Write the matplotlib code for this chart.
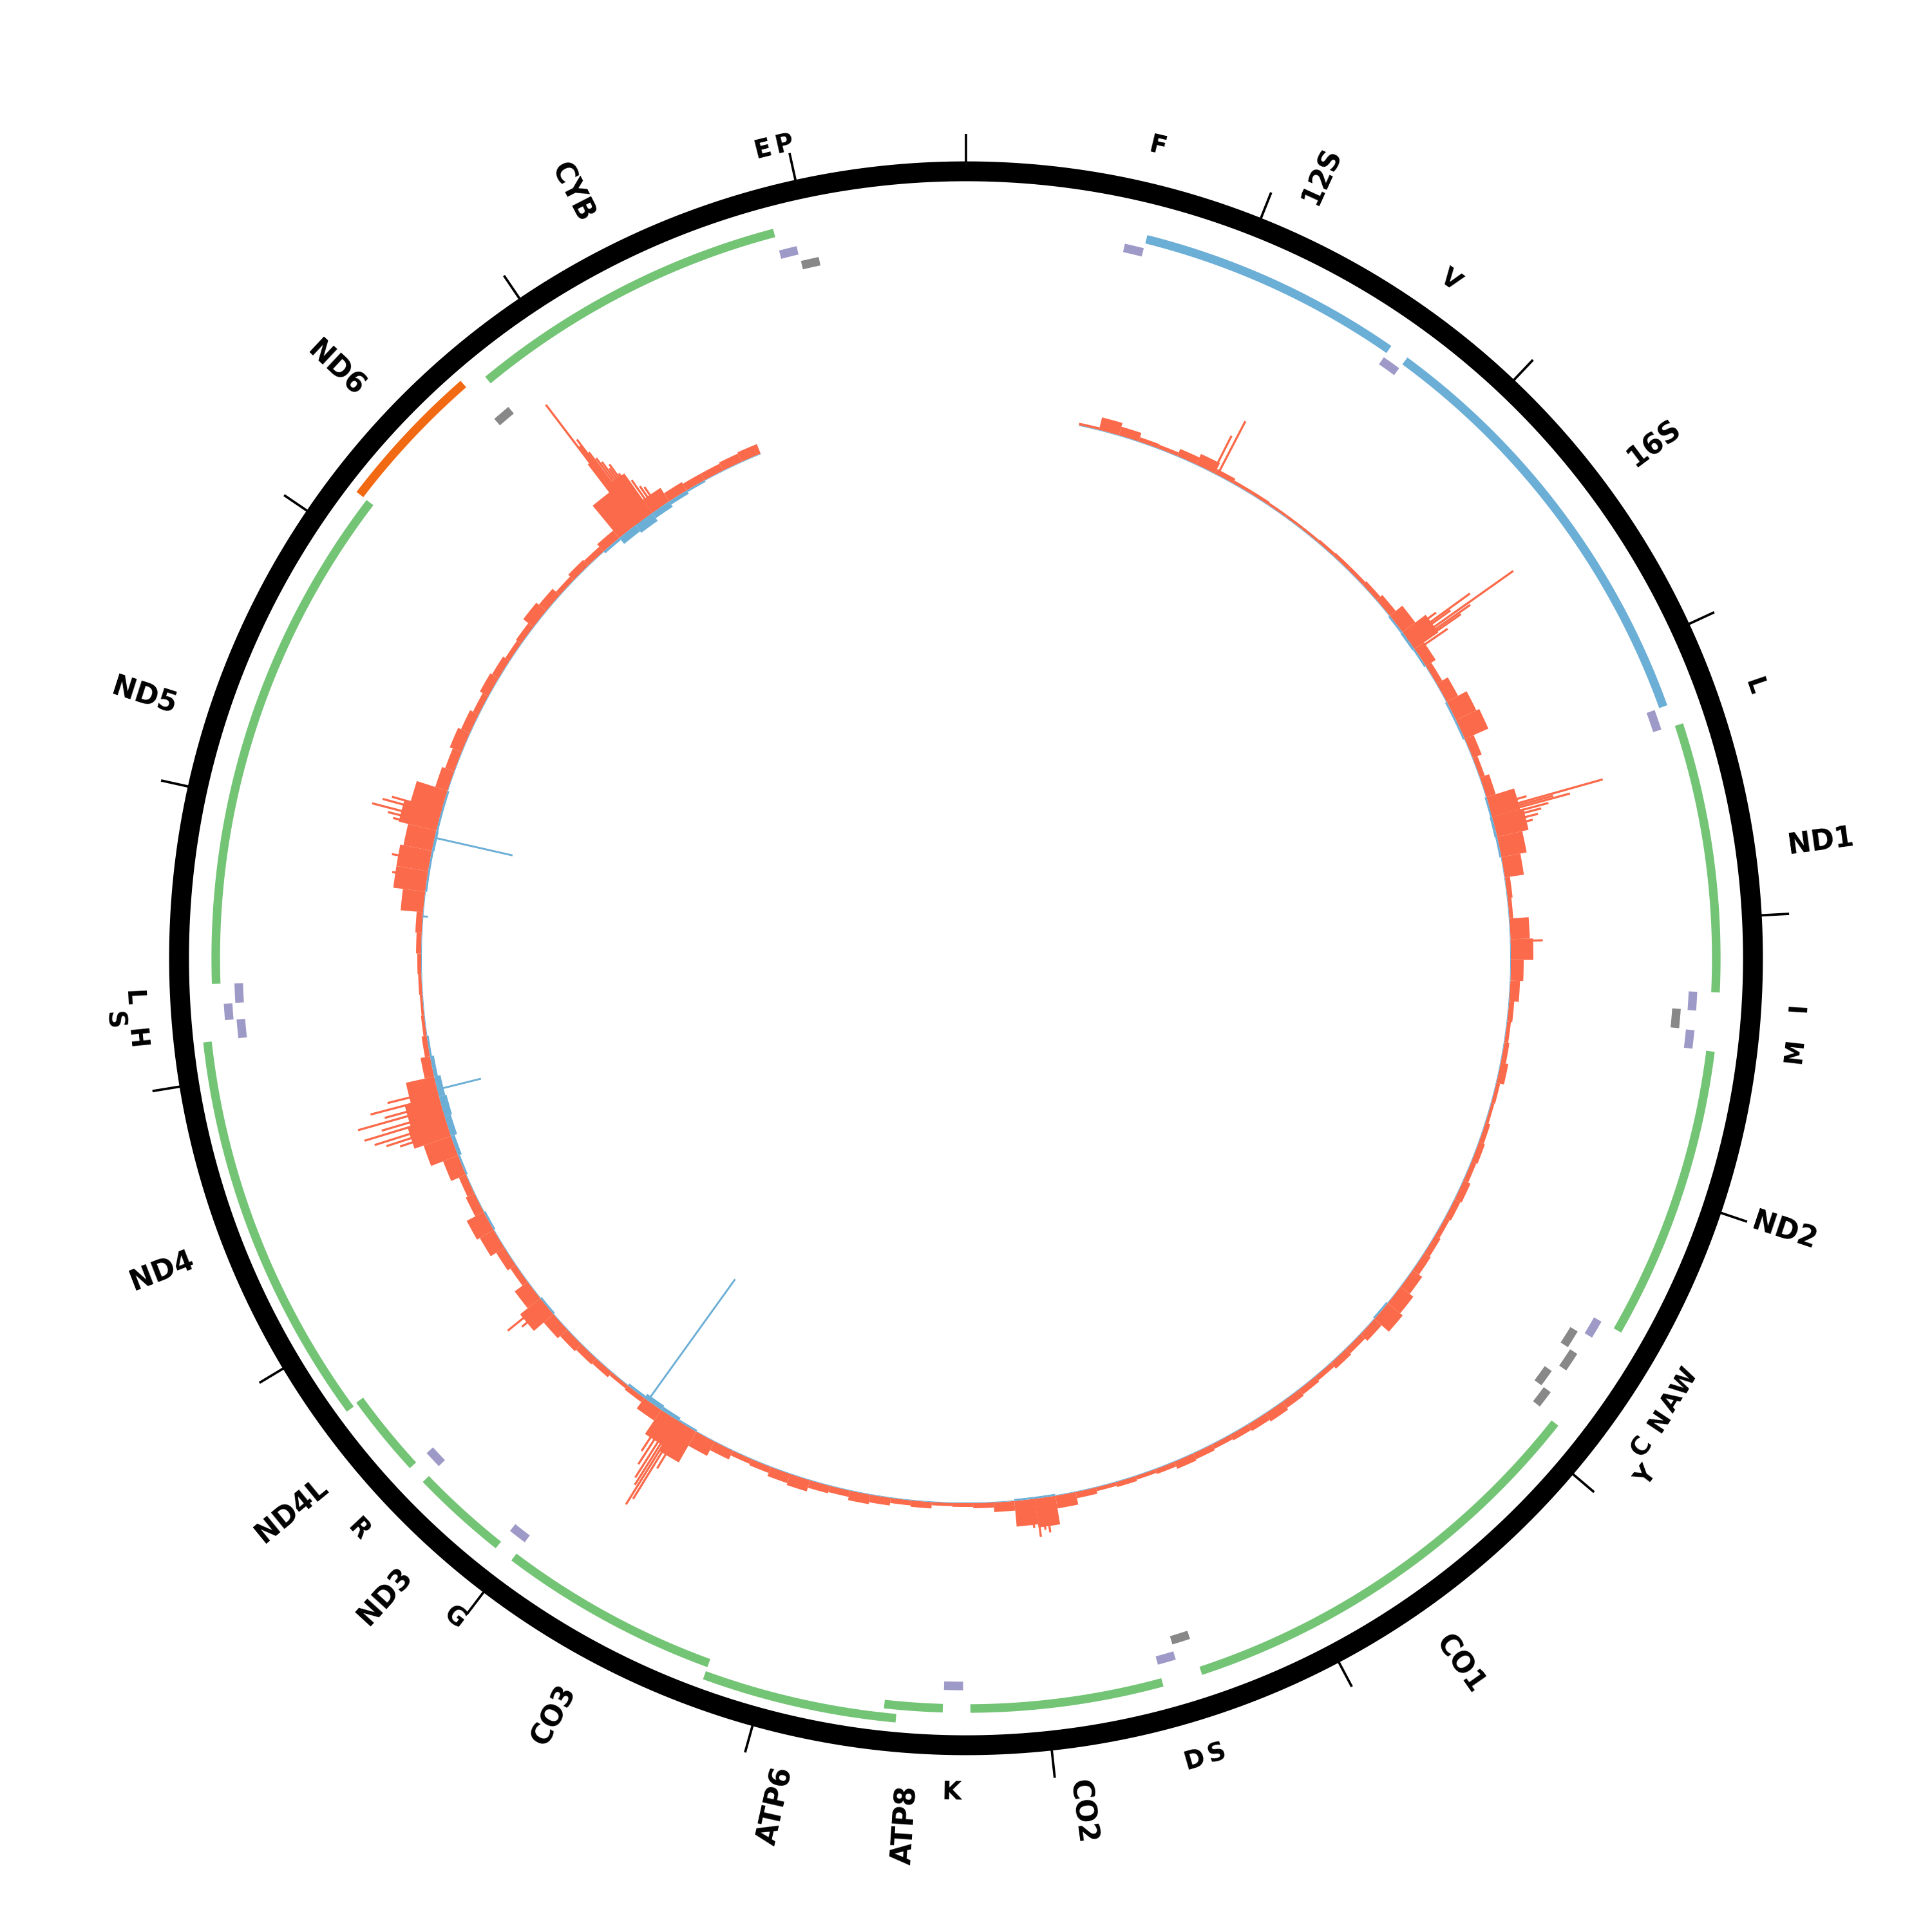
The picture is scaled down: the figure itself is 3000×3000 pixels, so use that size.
import numpy as np
import matplotlib
matplotlib.use("Agg")
import matplotlib.pyplot as plt

# genome and annotation (rCRS)
genome_len = 16569
names = ['F', '12S', 'V', '16S', 'L', 'ND1', 'I', 'Q', 'M', 'ND2', 'W', 'A', 'N', 'C', 'Y',
         'CO1', 'S', 'D', 'CO2', 'K', 'ATP8', 'ATP6', 'CO3', 'G', 'ND3', 'R', 'ND4L', 'ND4',
         'H', 'S', 'L', 'ND5', 'ND6', 'E', 'CYB', 'T', 'P']
starts = [577, 648, 1602, 1671, 3230, 3307, 4263, 4329, 4402, 4470, 5512, 5587, 5657, 5761, 5826,
          5904, 7446, 7518, 7586, 8295, 8366, 8527, 9207, 9991, 10059, 10405, 10470, 10760,
          12138, 12207, 12266, 12337, 14149, 14674, 14747, 15888, 15956]
ends = [647, 1601, 1670, 3229, 3304, 4262, 4331, 4400, 4469, 5511, 5579, 5655, 5729, 5826, 5891,
        7445, 7514, 7585, 8269, 8364, 8572, 9207, 9990, 10058, 10404, 10469, 10766, 12137,
        12206, 12265, 12336, 14148, 14673, 14742, 15887, 15953, 16023]
strands = [1, 1, 1, 1, 1, 1, 1, -1, 1, 1, 1, -1, -1, -1, -1,
           1, -1, 1, 1, 1, 1, 1, 1, 1, 1, 1, 1, 1,
           1, 1, 1, 1, -1, -1, 1, 1, -1]
# text actually printed next to each feature in the figure
shown_labels = ['F', '12S', 'V', '16S', 'L', 'ND1', 'I', '', 'M', 'ND2', 'W', 'A', 'N', 'C', 'Y',
                'CO1', 'S', 'D', 'CO2', 'K', 'ATP8', 'ATP6', 'CO3', 'G', 'ND3', 'R', 'ND4L', 'ND4',
                'H', 'S', 'L', 'ND5', 'ND6', '', 'CYB', 'E', 'P']

# coverage, 100 bp bins (bin centres 600 ... 15500)
cov_first, cov_step = 600, 100
cov_fwd = [4, 20, 14, 7, 6, 12, 18, 8, 5, 5,
           4, 4, 4, 5, 6, 6, 8, 12, 25, 45,
           18, 10, 20, 35, 40, 15, 8, 15, 45, 50,
           40, 30, 8, 6, 30, 35, 20, 15, 8, 6,
           8, 12, 6, 5, 8, 10, 8, 12, 10, 8,
           10, 12, 18, 25, 30, 15, 10, 12, 8, 10,
           12, 15, 12, 10, 8, 10, 12, 8, 6, 8,
           6, 10, 20, 45, 40, 15, 8, 6, 5, 10,
           8, 12, 15, 10, 12, 18, 15, 10, 8, 15,
           25, 55, 45, 20, 8, 6, 10, 12, 15, 20,
           40, 25, 10, 15, 25, 30, 15, 12, 25, 45,
           60, 55, 45, 15, 8, 5, 4, 5, 6, 8,
           10, 35, 50, 50, 45, 60, 50, 20, 15, 20,
           15, 10, 15, 12, 8, 10, 20, 15, 8, 12,
           10, 15, 65, 75, 25, 15, 12, 12, 14, 16]
cov_rev = [1, 1, 1, 1, 1, 1, 1, 1, 1, 1,
           1, 1, 1, 1, 1, 1, 1, 1, 3, 4,
           3, 1, 1, 3, 3, 1, 1, 1, 3, 4,
           3, 1, 1, 1, 1, 1, 1, 1, 1, 1,
           1, 1, 1, 1, 1, 1, 1, 1, 1, 1,
           1, 1, 1, 1, 3, 1, 1, 1, 1, 1,
           1, 1, 1, 1, 1, 1, 1, 1, 1, 1,
           1, 1, 1, 3, 3, 1, 1, 1, 1, 1,
           1, 1, 1, 1, 1, 1, 1, 1, 1, 1,
           1, 3, 6, 8, 4, 1, 1, 1, 1, 1,
           3, 1, 1, 1, 1, 3, 1, 1, 3, 6,
           10, 12, 10, 6, 3, 1, 1, 1, 1, 1,
           1, 1, 3, 3, 4, 3, 3, 1, 1, 1,
           1, 1, 1, 1, 1, 1, 1, 1, 1, 1,
           1, 4, 12, 15, 10, 6, 3, 1, 1, 1]
# single-position peaks (needles)
peak_fwd_pos = [1240, 1265,
                2470, 2490, 2500, 2518, 2530, 2540, 2560,
                3400, 3420, 3430, 3440, 3455, 3470, 3490, 3510,
                4060, 7900, 7920, 7945, 7970,
                9720, 9740, 9753, 9765, 9780, 9800, 9820,
                10600, 10627,
                11580, 11600, 11620, 11650, 11670, 11700, 11720, 11750, 11780,
                12820, 12900, 13060, 13080, 13100, 13130, 13150,
                14850, 14857, 14865, 14872, 14880, 14890, 14900, 14910, 14920, 14930,
                14945, 14960, 14975, 14990]
peak_fwd_val = [64, 94,
                60, 120, 80, 195, 110, 90, 60,
                60, 181, 100, 126, 90, 77, 70, 60,
                50, 55, 50, 60, 45,
                80, 140, 153, 120, 110, 90, 70,
                50, 71,
                80, 100, 117, 130, 100, 135, 90, 110, 80,
                55, 60, 70, 80, 107, 93, 80,
                120, 233, 150, 161, 134, 120, 110, 95, 100, 80,
                70, 60, 45, 40]
peak_rev_pos = [9929, 11785, 12630, 13015]
peak_rev_val = [232, 70, 8, 124]

colors = {'cds': '#74c476', 'rrna': '#6baed6', 'cds_minus': '#f16913',
          'trna': '#9e9ac8', 'trna_minus': '#888888'}


def to_theta(p):
    return np.asarray(p, dtype=float) / genome_len * 2 * np.pi


def kind_of(name, strand):
    if name in ('12S', '16S'):
        return 'rrna'
    if len(name) == 1:
        return 'trna' if strand > 0 else 'trna_minus'
    return 'cds' if strand > 0 else 'cds_minus'


kinds = [kind_of(n, s) for n, s in zip(names, strands)]
group = {'cds': 'big', 'cds_minus': 'big', 'rrna': 'rrna', 'trna': 'trna', 'trna_minus': 'trna_minus'}
base_r = {'big': 1165, 'rrna': 1151, 'trna': 1130, 'trna_minus': 1106}
step_r = {'big': 20, 'rrna': 18, 'trna': 18, 'trna_minus': 18}

# greedy packing: overlapping / touching features go to an outer lane
pad = 50
levels = [0] * len(names)
lane_end = {}
for i in np.argsort(starts):
    g = group[kinds[i]]
    ends_g = lane_end.setdefault(g, [])
    lv = 0
    while lv < len(ends_g) and ends_g[lv] + pad >= starts[i]:
        lv += 1
    if lv == len(ends_g):
        ends_g.append(ends[i])
    else:
        ends_g[lv] = ends[i]
    levels[i] = lv

fig = plt.figure(figsize=(10, 10), dpi=300)
ax = fig.add_axes([0, 0.004, 1, 1], projection='polar')
ax.set_theta_zero_location('N')
ax.set_theta_direction(-1)
ax.set_rlim(0, 1500)
ax.set_axis_off()

# outer ring and ticks every 1 kb
ring_t = np.linspace(0, 2 * np.pi, 1000)
ax.plot(ring_t, np.full_like(ring_t, 1222), color='black', lw=7.4, solid_capstyle='butt')
ticks = np.arange(0, genome_len, 1000)
ax.vlines(to_theta(ticks), 1236, 1280, color='black', lw=0.9)

# feature arcs
for i in range(len(names)):
    g = group[kinds[i]]
    r = base_r[g] + levels[i] * step_r[g]
    t = np.linspace(to_theta(starts[i]), to_theta(ends[i]), 60)
    ax.plot(t, np.full_like(t, r), color=colors[kinds[i]], lw=3.2, solid_capstyle='butt')

# tRNA letters closer than ~1.45 deg to the previous one are pushed outward
trna_idx = [i for i in range(len(names)) if kinds[i].startswith('trna') and shown_labels[i]]
trna_idx.sort(key=lambda i: starts[i])
label_lane = {}
last = None
for i in trna_idx:
    mid = (starts[i] + ends[i]) / 2 / genome_len * 360
    lane = 0
    if last is not None and mid - last[0] < 1.45 and last[1] == 0:
        lane = 1
    label_lane[i] = lane
    last = (mid, lane)

for i in range(len(names)):
    s = shown_labels[i]
    if not s:
        continue
    mid = (starts[i] + ends[i]) / 2
    deg = mid / genome_len * 360
    th = to_theta(mid)
    if kinds[i].startswith('trna'):
        rot = -deg if (deg <= 90 or deg >= 270) else 180 - deg
        r = 1295 + 32 * label_lane[i]
        ax.text(th, r, s, rotation=rot, rotation_mode='anchor', ha='center', va='center',
                fontsize=9.3, fontweight='bold', color='black')
    else:
        if deg < 180:
            rot, ha = 90 - deg, 'left'
        else:
            rot, ha = 270 - deg, 'right'
        ax.text(th, 1288, s, rotation=rot, rotation_mode='anchor', ha=ha, va='center',
                fontsize=10.5, fontweight='bold', color='black')

# coverage track: forward outward (red), reverse inward (blue)
cov_base = 846
cov_pos = cov_first + cov_step * np.arange(len(cov_fwd))
w = to_theta(cov_step)
ax.bar(to_theta(cov_pos), cov_fwd, width=w, bottom=cov_base, color='#fb6a4a', linewidth=0)
ax.bar(to_theta(cov_pos), -np.asarray(cov_rev), width=w, bottom=cov_base, color='#6baed6', linewidth=0)
ax.vlines(to_theta(peak_fwd_pos), cov_base, cov_base + np.asarray(peak_fwd_val), color='#fb6a4a', lw=0.8)
ax.vlines(to_theta(peak_rev_pos), cov_base - np.asarray(peak_rev_val), cov_base, color='#6baed6', lw=0.7)

fig.savefig('out.png', dpi=300, facecolor='white')
